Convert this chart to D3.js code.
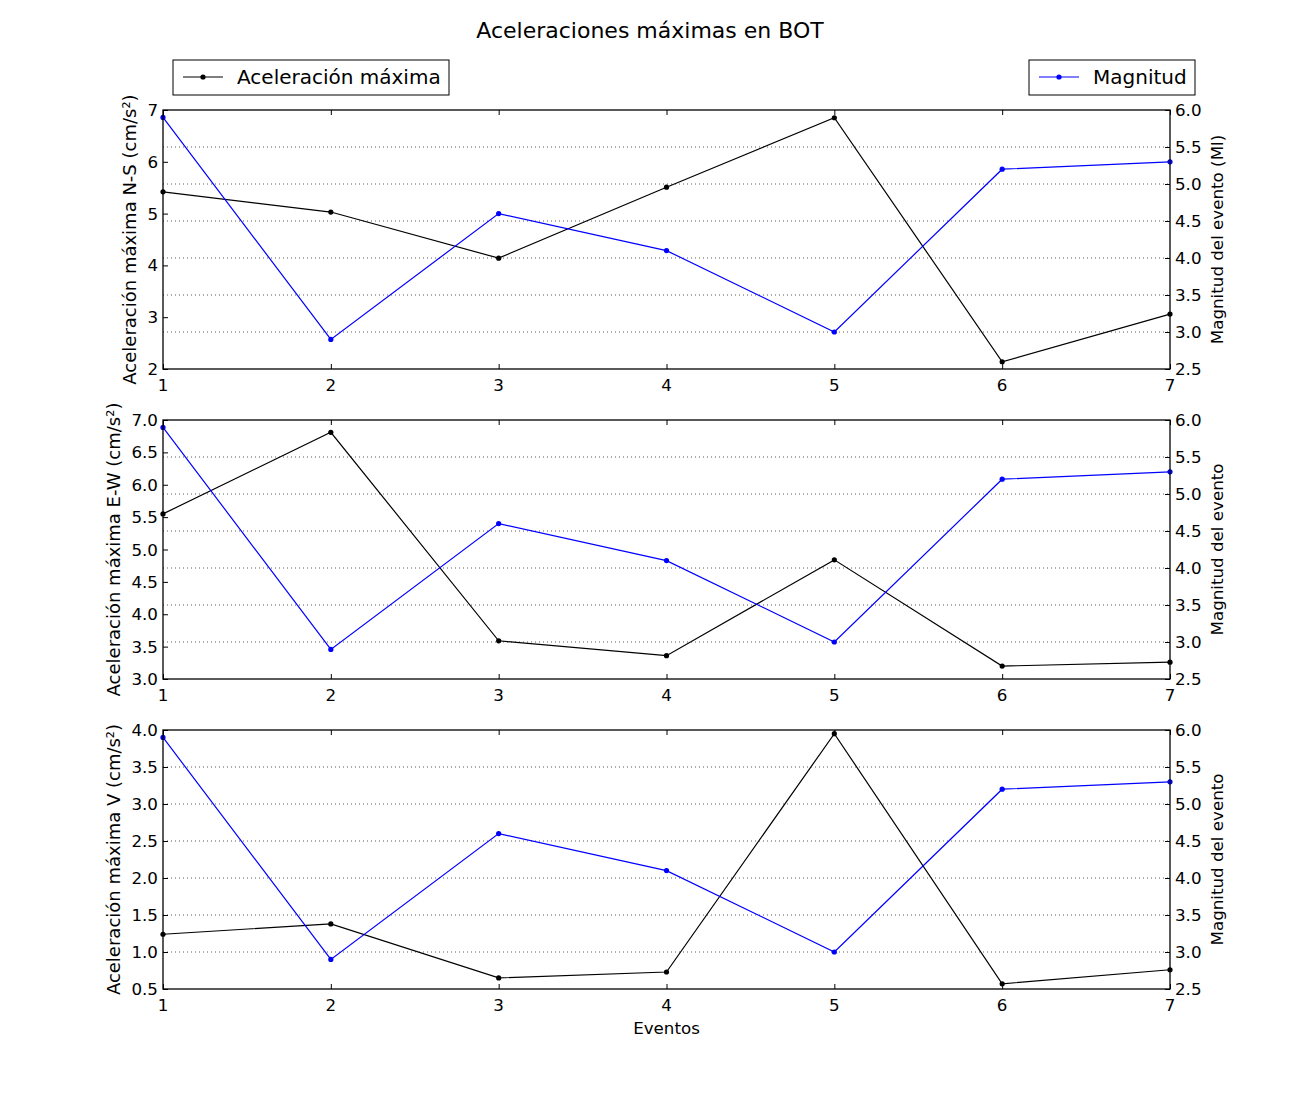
<!DOCTYPE html>
<html>
<head>
  <meta charset="utf-8">
  <script src="https://d3js.org/d3.v7.min.js"></script>
  <style>
    body { margin: 0; background: #fff; }
    text { font-family: "DejaVu Sans", sans-serif; fill: #000; }
  </style>
</head>
<body>
<script>
  // data
  var eventos = [1, 2, 3, 4, 5, 6, 7];
  var magnitud = [5.9, 2.9, 4.6, 4.1, 3.0, 5.2, 5.3];
  var accNS = [5.42, 5.03, 4.14, 5.51, 6.85, 2.14, 3.06];
  var accEW = [5.55, 6.81, 3.59, 3.36, 4.84, 3.20, 3.26];
  var accV = [1.24, 1.38, 0.65, 0.73, 3.95, 0.57, 0.76];

  var nsTicks = [2, 3, 4, 5, 6, 7];
  var ewTicks = [3.0, 3.5, 4.0, 4.5, 5.0, 5.5, 6.0, 6.5, 7.0];
  var vTicks = [0.5, 1.0, 1.5, 2.0, 2.5, 3.0, 3.5, 4.0];
  var magTicks = [2.5, 3.0, 3.5, 4.0, 4.5, 5.0, 5.5, 6.0];

  var panels = [
    {acc: accNS, domain: [2, 7], ticks: nsTicks, fmt: d3.format("d"), top: 110, lx: 136,
     ylabel: "Aceleración máxima N-S (cm/s²)", rlabel: "Magnitud del evento (Ml)"},
    {acc: accEW, domain: [3, 7], ticks: ewTicks, fmt: d3.format(".1f"), top: 420, lx: 120,
     ylabel: "Aceleración máxima E-W (cm/s²)", rlabel: "Magnitud del evento"},
    {acc: accV, domain: [0.5, 4], ticks: vTicks, fmt: d3.format(".1f"), top: 730, lx: 120,
     ylabel: "Aceleración máxima V (cm/s²)", rlabel: "Magnitud del evento"}
  ];

  var W = 1300, H = 1100;
  var left = 163, right = 1170, ph = 259;
  var tickFont = "16.7px";

  var svg = d3.select("body").append("svg")
      .attr("width", W).attr("height", H);

  svg.append("text")
      .attr("x", 650).attr("y", 38)
      .attr("text-anchor", "middle")
      .style("font-size", "22px")
      .text("Aceleraciones máximas en BOT");

  var x = d3.scaleLinear().domain([1, 7]).range([left, right]);
  var yM = d3.scaleLinear().domain([2.5, 6.0]).range([ph, 0]);

  panels.forEach(function(p, i) {
    var g = svg.append("g").attr("transform", "translate(0," + p.top + ")");
    var y = d3.scaleLinear().domain(p.domain).range([ph, 0]);

    // dotted grid from the magnitude axis
    g.selectAll(".grid").data(magTicks.slice(1, -1)).enter().append("line")
        .attr("x1", left).attr("x2", right)
        .attr("y1", function(d) { return yM(d); })
        .attr("y2", function(d) { return yM(d); })
        .attr("stroke", "#333").attr("stroke-width", 0.8)
        .attr("stroke-dasharray", "1,3");

    // axes, ticks pointing inward
    var xb = g.append("g").attr("transform", "translate(0," + ph + ")")
        .call(d3.axisTop(x).tickValues(eventos).tickSize(5).tickFormat(""));
    var xt = g.append("g")
        .call(d3.axisBottom(x).tickValues(eventos).tickSize(5).tickFormat(""));
    var yl = g.append("g").attr("transform", "translate(" + left + ",0)")
        .call(d3.axisRight(y).tickValues(p.ticks).tickSize(5).tickFormat(""));
    var yr = g.append("g").attr("transform", "translate(" + right + ",0)")
        .call(d3.axisLeft(yM).tickValues(magTicks).tickSize(5).tickFormat(""));
    [xb, xt, yl, yr].forEach(function(a) {
      a.select(".domain").remove();
      a.selectAll("line").attr("stroke", "#000");
    });

    // tick labels
    g.selectAll(".xl").data(eventos).enter().append("text")
        .attr("x", function(d) { return x(d); })
        .attr("y", ph + 22)
        .attr("text-anchor", "middle")
        .style("font-size", tickFont)
        .text(function(d) { return d; });
    g.selectAll(".yl").data(p.ticks).enter().append("text")
        .attr("x", left - 5)
        .attr("y", function(d) { return y(d) + 6; })
        .attr("text-anchor", "end")
        .style("font-size", tickFont)
        .text(function(d) { return p.fmt(d); });
    g.selectAll(".yr").data(magTicks).enter().append("text")
        .attr("x", right + 5)
        .attr("y", function(d) { return yM(d) + 6; })
        .attr("text-anchor", "start")
        .style("font-size", tickFont)
        .text(function(d) { return d3.format(".1f")(d); });

    // axis titles
    g.append("text")
        .attr("transform", "translate(" + p.lx + "," + (ph / 2) + ") rotate(-90)")
        .attr("text-anchor", "middle")
        .style("font-size", "18px")
        .text(p.ylabel);
    g.append("text")
        .attr("transform", "translate(1223," + (ph / 2) + ") rotate(-90)")
        .attr("text-anchor", "middle")
        .style("font-size", "16.7px")
        .text(p.rlabel);

    var clip = "clip" + i;
    g.append("clipPath").attr("id", clip).append("rect")
        .attr("x", left - 4).attr("y", -4).attr("width", right - left + 8).attr("height", ph + 8);
    var plot = g.append("g").attr("clip-path", "url(#" + clip + ")");

    // acceleration series (black)
    plot.append("path")
        .datum(p.acc)
        .attr("fill", "none").attr("stroke", "#000").attr("stroke-width", 1.2)
        .attr("d", d3.line().x(function(d, j) { return x(eventos[j]); }).y(function(d) { return y(d); }));
    plot.selectAll(".pa").data(p.acc).enter().append("circle")
        .attr("cx", function(d, j) { return x(eventos[j]); })
        .attr("cy", function(d) { return y(d); })
        .attr("r", 2.6).attr("fill", "#000");

    // magnitude series (blue)
    plot.append("path")
        .datum(magnitud)
        .attr("fill", "none").attr("stroke", "#0000ff").attr("stroke-width", 1.2)
        .attr("d", d3.line().x(function(d, j) { return x(eventos[j]); }).y(function(d) { return yM(d); }));
    plot.selectAll(".pm").data(magnitud).enter().append("circle")
        .attr("cx", function(d, j) { return x(eventos[j]); })
        .attr("cy", function(d) { return yM(d); })
        .attr("r", 2.6).attr("fill", "#0000ff");

    // frame
    g.append("rect")
        .attr("x", left).attr("y", 0).attr("width", right - left).attr("height", ph)
        .attr("fill", "none").attr("stroke", "#000").attr("stroke-width", 1.3);

    if (i === panels.length - 1) {
      g.append("text")
          .attr("x", (left + right) / 2).attr("y", ph + 45)
          .attr("text-anchor", "middle")
          .style("font-size", "16.7px")
          .text("Eventos");
    }
  });

  // legends
  function legend(x0, w, label, color) {
    var lg = svg.append("g").attr("transform", "translate(" + x0 + ",60)");
    lg.append("rect").attr("width", w).attr("height", 35)
        .attr("fill", "#fff").attr("stroke", "#000").attr("stroke-width", 1);
    lg.append("line").attr("x1", 10).attr("x2", 50).attr("y1", 17).attr("y2", 17)
        .attr("stroke", color).attr("stroke-width", 1.2);
    lg.append("circle").attr("cx", 30).attr("cy", 17).attr("r", 2.6).attr("fill", color);
    lg.append("text").attr("x", 64).attr("y", 24)
        .style("font-size", "20px").text(label);
  }
  legend(173, 276, "Aceleración máxima", "#000");
  legend(1029, 166, "Magnitud", "#0000ff");
</script>
</body>
</html>
